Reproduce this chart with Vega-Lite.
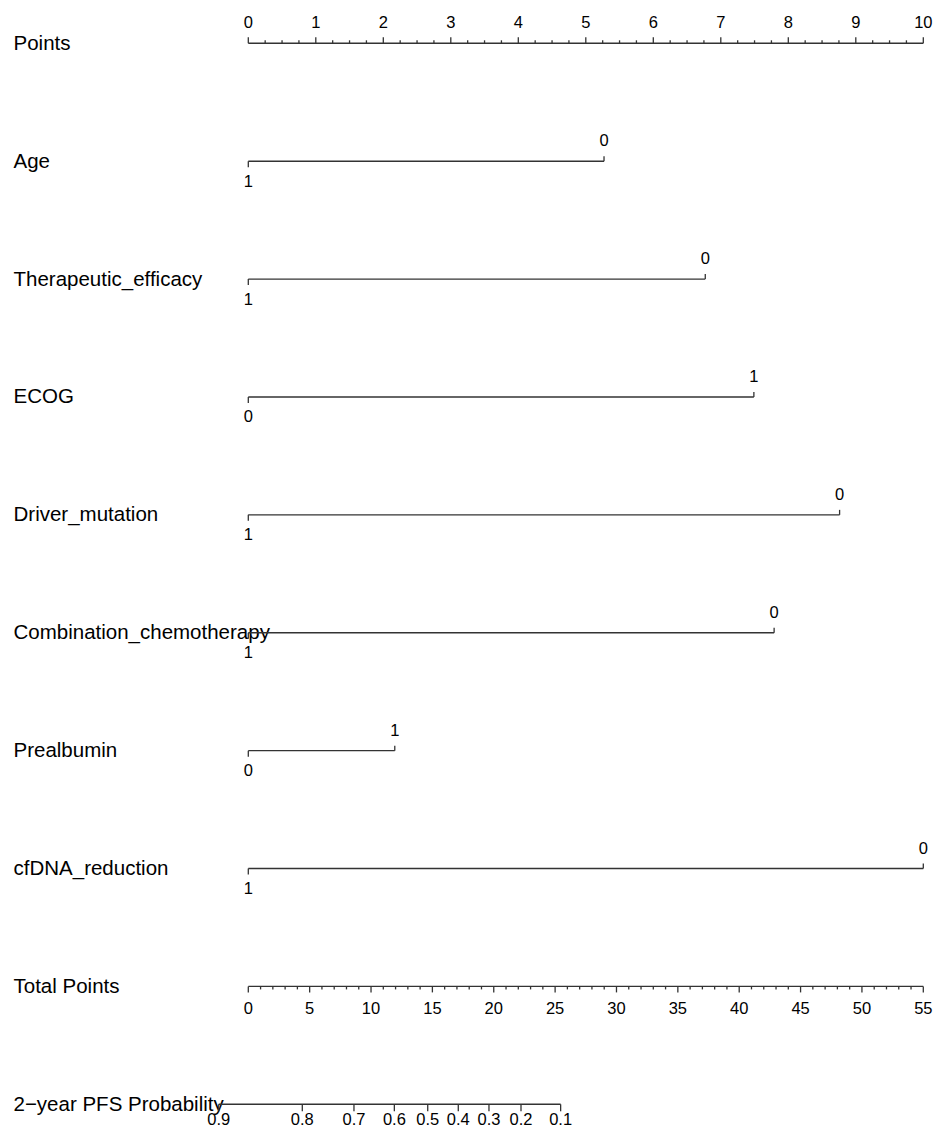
{
  "$schema": "https://vega.github.io/schema/vega-lite/v6.json",
  "width": 937,
  "height": 1138,
  "padding": 0,
  "autosize": {"type": "none"},
  "background": "white",
  "config": {"view": {"stroke": null}, "font": "Liberation Sans"},
  "datasets": {
    "pointsTicks": [
      {"row": "Points", "v": 0}, {"row": "Points", "v": 0.25}, {"row": "Points", "v": 0.5}, {"row": "Points", "v": 0.75},
      {"row": "Points", "v": 1}, {"row": "Points", "v": 1.25}, {"row": "Points", "v": 1.5}, {"row": "Points", "v": 1.75},
      {"row": "Points", "v": 2}, {"row": "Points", "v": 2.25}, {"row": "Points", "v": 2.5}, {"row": "Points", "v": 2.75},
      {"row": "Points", "v": 3}, {"row": "Points", "v": 3.25}, {"row": "Points", "v": 3.5}, {"row": "Points", "v": 3.75},
      {"row": "Points", "v": 4}, {"row": "Points", "v": 4.25}, {"row": "Points", "v": 4.5}, {"row": "Points", "v": 4.75},
      {"row": "Points", "v": 5}, {"row": "Points", "v": 5.25}, {"row": "Points", "v": 5.5}, {"row": "Points", "v": 5.75},
      {"row": "Points", "v": 6}, {"row": "Points", "v": 6.25}, {"row": "Points", "v": 6.5}, {"row": "Points", "v": 6.75},
      {"row": "Points", "v": 7}, {"row": "Points", "v": 7.25}, {"row": "Points", "v": 7.5}, {"row": "Points", "v": 7.75},
      {"row": "Points", "v": 8}, {"row": "Points", "v": 8.25}, {"row": "Points", "v": 8.5}, {"row": "Points", "v": 8.75},
      {"row": "Points", "v": 9}, {"row": "Points", "v": 9.25}, {"row": "Points", "v": 9.5}, {"row": "Points", "v": 9.75},
      {"row": "Points", "v": 10}
    ],
    "levels": [
      {"row": "Age", "level": "1", "pts": 0}, {"row": "Age", "level": "0", "pts": 5.27},
      {"row": "Therapeutic_efficacy", "level": "1", "pts": 0}, {"row": "Therapeutic_efficacy", "level": "0", "pts": 6.77},
      {"row": "ECOG", "level": "0", "pts": 0}, {"row": "ECOG", "level": "1", "pts": 7.49},
      {"row": "Driver_mutation", "level": "1", "pts": 0}, {"row": "Driver_mutation", "level": "0", "pts": 8.76},
      {"row": "Combination_chemotherapy", "level": "1", "pts": 0}, {"row": "Combination_chemotherapy", "level": "0", "pts": 7.79},
      {"row": "Prealbumin", "level": "0", "pts": 0}, {"row": "Prealbumin", "level": "1", "pts": 2.17},
      {"row": "cfDNA_reduction", "level": "1", "pts": 0}, {"row": "cfDNA_reduction", "level": "0", "pts": 10}
    ],
    "totalTicks": [
      {"row": "Total Points", "t": 0}, {"row": "Total Points", "t": 1}, {"row": "Total Points", "t": 2}, {"row": "Total Points", "t": 3},
      {"row": "Total Points", "t": 4}, {"row": "Total Points", "t": 5}, {"row": "Total Points", "t": 6}, {"row": "Total Points", "t": 7},
      {"row": "Total Points", "t": 8}, {"row": "Total Points", "t": 9}, {"row": "Total Points", "t": 10}, {"row": "Total Points", "t": 11},
      {"row": "Total Points", "t": 12}, {"row": "Total Points", "t": 13}, {"row": "Total Points", "t": 14}, {"row": "Total Points", "t": 15},
      {"row": "Total Points", "t": 16}, {"row": "Total Points", "t": 17}, {"row": "Total Points", "t": 18}, {"row": "Total Points", "t": 19},
      {"row": "Total Points", "t": 20}, {"row": "Total Points", "t": 21}, {"row": "Total Points", "t": 22}, {"row": "Total Points", "t": 23},
      {"row": "Total Points", "t": 24}, {"row": "Total Points", "t": 25}, {"row": "Total Points", "t": 26}, {"row": "Total Points", "t": 27},
      {"row": "Total Points", "t": 28}, {"row": "Total Points", "t": 29}, {"row": "Total Points", "t": 30}, {"row": "Total Points", "t": 31},
      {"row": "Total Points", "t": 32}, {"row": "Total Points", "t": 33}, {"row": "Total Points", "t": 34}, {"row": "Total Points", "t": 35},
      {"row": "Total Points", "t": 36}, {"row": "Total Points", "t": 37}, {"row": "Total Points", "t": 38}, {"row": "Total Points", "t": 39},
      {"row": "Total Points", "t": 40}, {"row": "Total Points", "t": 41}, {"row": "Total Points", "t": 42}, {"row": "Total Points", "t": 43},
      {"row": "Total Points", "t": 44}, {"row": "Total Points", "t": 45}, {"row": "Total Points", "t": 46}, {"row": "Total Points", "t": 47},
      {"row": "Total Points", "t": 48}, {"row": "Total Points", "t": 49}, {"row": "Total Points", "t": 50}, {"row": "Total Points", "t": 51},
      {"row": "Total Points", "t": 52}, {"row": "Total Points", "t": 53}, {"row": "Total Points", "t": 54}, {"row": "Total Points", "t": 55}
    ],
    "prob": [
      {"row": "2−year PFS Probability", "p": "0.9", "t": -2.41},
      {"row": "2−year PFS Probability", "p": "0.8", "t": 4.40},
      {"row": "2−year PFS Probability", "p": "0.7", "t": 8.61},
      {"row": "2−year PFS Probability", "p": "0.6", "t": 11.90},
      {"row": "2−year PFS Probability", "p": "0.5", "t": 14.62},
      {"row": "2−year PFS Probability", "p": "0.4", "t": 17.11},
      {"row": "2−year PFS Probability", "p": "0.3", "t": 19.61},
      {"row": "2−year PFS Probability", "p": "0.2", "t": 22.22},
      {"row": "2−year PFS Probability", "p": "0.1", "t": 25.45}
    ]
  },
  "encoding": {
    "y": {
      "field": "row",
      "type": "nominal",
      "scale": {
        "type": "point",
        "padding": 0,
        "domain": ["Points", "Age", "Therapeutic_efficacy", "ECOG", "Driver_mutation", "Combination_chemotherapy", "Prealbumin", "cfDNA_reduction", "Total Points", "2−year PFS Probability"],
        "range": [43.3, 1104.3]
      },
      "axis": {
        "orient": "left",
        "offset": -13,
        "domain": false,
        "ticks": false,
        "tickSize": 0,
        "labelPadding": 0,
        "labelAlign": "left",
        "labelBaseline": "middle",
        "labelFontSize": 20.5,
        "labelFont": "Liberation Sans",
        "labelColor": "black",
        "labelLimit": 0,
        "labelOverlap": false,
        "labelBound": false,
        "grid": false,
        "title": null
      }
    }
  },
  "layer": [
    {
      "layer": [
        {
          "data": {"name": "pointsTicks"},
          "mark": {"type": "line", "color": "#333", "strokeWidth": 1.4},
          "encoding": {"x": {"field": "v", "type": "quantitative", "scale": {"domain": [0, 10], "range": [248.3, 923.3], "nice": false, "zero": false}, "axis": null}}
        },
        {
          "data": {"name": "pointsTicks"},
          "transform": [{"filter": "datum.v % 1 == 0"}],
          "mark": {"type": "tick", "color": "#333", "opacity": 1, "size": 6, "thickness": 1.3, "yOffset": -3},
          "encoding": {"x": {"field": "v", "type": "quantitative"}}
        },
        {
          "data": {"name": "pointsTicks"},
          "transform": [{"filter": "datum.v % 1 != 0"}],
          "mark": {"type": "tick", "color": "#333", "opacity": 1, "size": 3, "thickness": 1.3, "yOffset": -1.5},
          "encoding": {"x": {"field": "v", "type": "quantitative"}}
        },
        {
          "data": {"name": "pointsTicks"},
          "transform": [{"filter": "datum.v % 1 == 0"}],
          "mark": {"type": "text", "fontSize": 16.5, "color": "black", "baseline": "middle", "align": "center", "dy": -20},
          "encoding": {"x": {"field": "v", "type": "quantitative"}, "text": {"field": "v", "type": "quantitative", "format": "d"}}
        },
        {
          "data": {"name": "levels"},
          "mark": {"type": "line", "color": "#333", "strokeWidth": 1.4},
          "encoding": {"x": {"field": "pts", "type": "quantitative"}, "detail": {"field": "row"}}
        },
        {
          "data": {"name": "levels"},
          "transform": [{"filter": "datum.pts == 0"}],
          "mark": {"type": "tick", "color": "#333", "opacity": 1, "size": 6, "thickness": 1.3, "yOffset": 3},
          "encoding": {"x": {"field": "pts", "type": "quantitative"}}
        },
        {
          "data": {"name": "levels"},
          "transform": [{"filter": "datum.pts > 0"}],
          "mark": {"type": "tick", "color": "#333", "opacity": 1, "size": 5, "thickness": 1.3, "yOffset": -2.5},
          "encoding": {"x": {"field": "pts", "type": "quantitative"}}
        },
        {
          "data": {"name": "levels"},
          "transform": [{"filter": "datum.pts == 0"}],
          "mark": {"type": "text", "fontSize": 16.5, "color": "black", "baseline": "middle", "align": "center", "dy": 20.5},
          "encoding": {"x": {"field": "pts", "type": "quantitative"}, "text": {"field": "level", "type": "nominal"}}
        },
        {
          "data": {"name": "levels"},
          "transform": [{"filter": "datum.pts > 0"}],
          "mark": {"type": "text", "fontSize": 16.5, "color": "black", "baseline": "middle", "align": "center", "dy": -20},
          "encoding": {"x": {"field": "pts", "type": "quantitative"}, "text": {"field": "level", "type": "nominal"}}
        }
      ]
    },
    {
      "layer": [
        {
          "data": {"name": "totalTicks"},
          "mark": {"type": "line", "color": "#333", "strokeWidth": 1.4},
          "encoding": {"x": {"field": "t", "type": "quantitative", "scale": {"domain": [0, 55], "range": [248.3, 923.3], "nice": false, "zero": false}, "axis": null}}
        },
        {
          "data": {"name": "totalTicks"},
          "transform": [{"filter": "datum.t % 5 == 0"}],
          "mark": {"type": "tick", "color": "#333", "opacity": 1, "size": 6, "thickness": 1.3, "yOffset": 3},
          "encoding": {"x": {"field": "t", "type": "quantitative"}}
        },
        {
          "data": {"name": "totalTicks"},
          "transform": [{"filter": "datum.t % 5 != 0"}],
          "mark": {"type": "tick", "color": "#333", "opacity": 1, "size": 3, "thickness": 1.3, "yOffset": 1.5},
          "encoding": {"x": {"field": "t", "type": "quantitative"}}
        },
        {
          "data": {"name": "totalTicks"},
          "transform": [{"filter": "datum.t % 5 == 0"}],
          "mark": {"type": "text", "fontSize": 16.5, "color": "black", "baseline": "middle", "align": "center", "dy": 23},
          "encoding": {"x": {"field": "t", "type": "quantitative"}, "text": {"field": "t", "type": "quantitative", "format": "d"}}
        },
        {
          "data": {"name": "prob"},
          "mark": {"type": "line", "color": "#333", "strokeWidth": 1.4},
          "encoding": {"x": {"field": "t", "type": "quantitative"}}
        },
        {
          "data": {"name": "prob"},
          "mark": {"type": "tick", "color": "#333", "opacity": 1, "size": 7, "thickness": 1.3, "yOffset": 3.5},
          "encoding": {"x": {"field": "t", "type": "quantitative"}}
        },
        {
          "data": {"name": "prob"},
          "mark": {"type": "text", "fontSize": 16.5, "color": "black", "baseline": "middle", "align": "center", "dy": 16},
          "encoding": {"x": {"field": "t", "type": "quantitative"}, "text": {"field": "p", "type": "nominal"}}
        }
      ]
    }
  ],
  "resolve": {"scale": {"x": "independent"}}
}
